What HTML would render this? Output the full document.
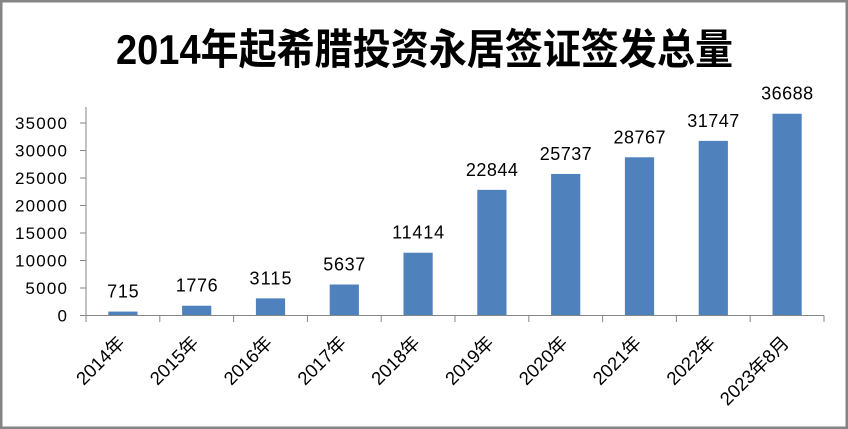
<!DOCTYPE html>
<html><head><meta charset="utf-8"><style>
html,body{margin:0;padding:0;background:#fff;}
svg{display:block;}
text{font-family:"Liberation Sans","Noto Sans CJK SC",sans-serif;fill:#000;}
</style></head><body>
<svg width="848" height="429" viewBox="0 0 848 429" xmlns="http://www.w3.org/2000/svg">
<rect x="0" y="0" width="848" height="429" fill="#fff"/>
<rect x="1.25" y="1.25" width="845.5" height="426.5" fill="none" stroke="#858585" stroke-width="2.5"/>
<text x="424.5" y="64" text-anchor="middle" font-size="42" font-weight="bold" textLength="617" lengthAdjust="spacingAndGlyphs">2014年起希腊投资永居签证签发总量</text>
<g fill="#4F81BD">
<rect x="108.3" y="311.57" width="29.2" height="3.93"/>
<rect x="182.1" y="305.73" width="29.2" height="9.77"/>
<rect x="255.9" y="298.37" width="29.2" height="17.13"/>
<rect x="329.7" y="284.5" width="29.2" height="31"/>
<rect x="403.5" y="252.72" width="29.2" height="62.78"/>
<rect x="477.3" y="189.86" width="29.2" height="125.64"/>
<rect x="551.1" y="173.95" width="29.2" height="141.55"/>
<rect x="624.9" y="157.28" width="29.2" height="158.22"/>
<rect x="698.7" y="140.89" width="29.2" height="174.61"/>
<rect x="772.5" y="113.72" width="29.2" height="201.78"/>
</g>
<g stroke="#868686" stroke-width="1" fill="none">
<line x1="86" y1="107" x2="86" y2="316"/>
<line x1="86" y1="315.5" x2="824" y2="315.5"/>
<line x1="80" y1="315.5" x2="86" y2="315.5"/>
<line x1="80" y1="288" x2="86" y2="288"/>
<line x1="80" y1="260.5" x2="86" y2="260.5"/>
<line x1="80" y1="233" x2="86" y2="233"/>
<line x1="80" y1="205.5" x2="86" y2="205.5"/>
<line x1="80" y1="178" x2="86" y2="178"/>
<line x1="80" y1="150.5" x2="86" y2="150.5"/>
<line x1="80" y1="123" x2="86" y2="123"/>
<line x1="86" y1="315.5" x2="86" y2="322"/>
<line x1="159.8" y1="315.5" x2="159.8" y2="322"/>
<line x1="233.6" y1="315.5" x2="233.6" y2="322"/>
<line x1="307.4" y1="315.5" x2="307.4" y2="322"/>
<line x1="381.2" y1="315.5" x2="381.2" y2="322"/>
<line x1="455" y1="315.5" x2="455" y2="322"/>
<line x1="528.8" y1="315.5" x2="528.8" y2="322"/>
<line x1="602.6" y1="315.5" x2="602.6" y2="322"/>
<line x1="676.4" y1="315.5" x2="676.4" y2="322"/>
<line x1="750.2" y1="315.5" x2="750.2" y2="322"/>
<line x1="824" y1="315.5" x2="824" y2="322"/>
</g>
<g font-size="17" text-anchor="end">
<text x="67" y="321.5" textLength="10.4">0</text>
<text x="67" y="294" textLength="41.6">5000</text>
<text x="67" y="266.5" textLength="52">10000</text>
<text x="67" y="239" textLength="52">15000</text>
<text x="67" y="211.5" textLength="52">20000</text>
<text x="67" y="184" textLength="52">25000</text>
<text x="67" y="156.5" textLength="52">30000</text>
<text x="67" y="129" textLength="52">35000</text>
</g>
<g font-size="18" text-anchor="middle">
<text x="122.9" y="297.6" textLength="31.5">715</text>
<text x="196.7" y="291.7" textLength="42">1776</text>
<text x="270.5" y="284.4" textLength="42">3115</text>
<text x="344.3" y="270.5" textLength="42">5637</text>
<text x="418.1" y="238.7" textLength="52">11414</text>
<text x="491.9" y="175.9" textLength="52">22844</text>
<text x="565.7" y="160" textLength="52">25737</text>
<text x="639.5" y="143.3" textLength="52">28767</text>
<text x="713.3" y="126.9" textLength="52">31747</text>
<text x="787.1" y="99.7" textLength="52">36688</text>
</g>
<g font-size="18.5" text-anchor="end">
<text transform="translate(125.9,344) rotate(-45)">2014年</text>
<text transform="translate(199.7,344) rotate(-45)">2015年</text>
<text transform="translate(273.5,344) rotate(-45)">2016年</text>
<text transform="translate(347.3,344) rotate(-45)">2017年</text>
<text transform="translate(421.1,344) rotate(-45)">2018年</text>
<text transform="translate(494.9,344) rotate(-45)">2019年</text>
<text transform="translate(568.7,344) rotate(-45)">2020年</text>
<text transform="translate(642.5,344) rotate(-45)">2021年</text>
<text transform="translate(716.3,344) rotate(-45)">2022年</text>
<text transform="translate(790.1,344) rotate(-45)">2023年8月</text>
</g>
</svg>
</body></html>
